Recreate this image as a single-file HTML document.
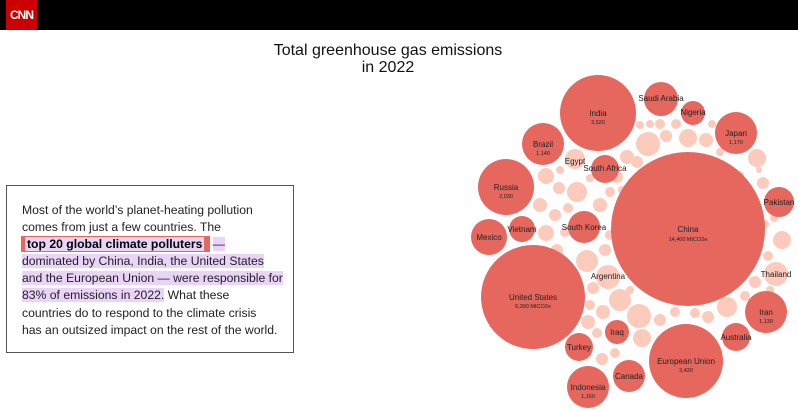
<!DOCTYPE html>
<html><head><meta charset="utf-8"><style>
html,body{margin:0;padding:0;background:#fff;}
body{width:798px;height:412px;position:relative;overflow:hidden;font-family:"Liberation Sans",sans-serif;}
.hdr{position:absolute;left:0;top:0;width:798px;height:30px;background:#000;}
.logo{position:absolute;left:6px;top:0;width:31px;height:30px;background:#cc0000;color:#fff;font-weight:bold;font-size:12px;line-height:30px;text-align:center;letter-spacing:-1px;}
.title{position:absolute;left:230px;width:316px;top:42px;text-align:center;font-size:16px;line-height:17px;color:#111;}
.box{position:absolute;left:6px;top:185px;width:288px;height:168px;border:1px solid #555;box-sizing:border-box;}
.txt{position:absolute;left:22px;top:202px;font-size:12.2px;line-height:17.1px;color:#222;white-space:nowrap;}
.hl{background:#e9d3f7;}
.bd{font-weight:bold;color:#000;border-left:3px solid #e5675d;border-right:5px solid #e5675d;outline:1px solid #e5675d;padding:0 2px;background:#e9d3f7;}
svg{position:absolute;left:0;top:0;}
svg text{font-family:"Liberation Sans",sans-serif;fill:#222;text-anchor:middle;}
</style></head><body>
<div class="hdr"><div class="logo">CNN</div></div>
<div class="title">Total greenhouse gas emissions<br>in 2022</div>
<div class="box"></div>
<div class="txt">Most of the world’s planet-heating pollution<br>comes from just a few countries. The<br><span class="bd">top 20 global climate polluters</span> <span class="hl">—</span><br><span class="hl">dominated by China, India, the United States</span><br><span class="hl">and the European Union — were responsible for</span><br><span class="hl">83% of emissions in 2022.</span> What these<br>countries do to respond to the climate crisis<br>has an outsized impact on the rest of the world.</div>
<svg width="798" height="412" viewBox="0 0 798 412">
<g fill="#fdcbbb">
<circle cx="648" cy="144" r="12"/><circle cx="688" cy="138" r="9"/><circle cx="706" cy="140" r="7"/><circle cx="660" cy="124" r="5"/><circle cx="666" cy="136" r="6"/>
<circle cx="757" cy="158" r="9"/><circle cx="763" cy="183" r="6"/><circle cx="782" cy="240" r="9"/><circle cx="768" cy="256" r="5"/><circle cx="765" cy="224" r="4"/><circle cx="759" cy="170" r="3"/>
<circle cx="575" cy="159" r="10"/><circle cx="577" cy="192" r="10"/><circle cx="546" cy="176" r="8"/><circle cx="540" cy="205" r="7"/><circle cx="559" cy="188" r="6"/><circle cx="546" cy="233" r="8"/><circle cx="555" cy="215" r="6"/><circle cx="568" cy="208" r="5"/><circle cx="600" cy="205" r="7"/><circle cx="610" cy="192" r="5"/><circle cx="557" cy="250" r="6"/><circle cx="565" cy="232" r="5"/><circle cx="548" cy="160" r="4"/><circle cx="560" cy="170" r="4"/><circle cx="590" cy="178" r="4"/>
<circle cx="587" cy="261" r="11"/><circle cx="608" cy="277" r="12"/><circle cx="605" cy="250" r="6"/><circle cx="610" cy="235" r="5"/><circle cx="620" cy="300" r="11"/><circle cx="639" cy="316" r="12"/><circle cx="642" cy="338" r="9"/><circle cx="603" cy="312" r="7"/><circle cx="588" cy="322" r="7"/><circle cx="593" cy="288" r="6"/><circle cx="597" cy="333" r="5"/><circle cx="602" cy="359" r="6"/><circle cx="615" cy="353" r="5"/><circle cx="590" cy="305" r="5"/><circle cx="630" cy="290" r="4"/><circle cx="660" cy="320" r="6"/><circle cx="675" cy="312" r="5"/>
<circle cx="727" cy="307" r="10"/><circle cx="708" cy="317" r="6"/><circle cx="695" cy="313" r="5"/><circle cx="755" cy="282" r="6"/><circle cx="745" cy="296" r="5"/><circle cx="770" cy="290" r="4"/>
<circle cx="627" cy="157" r="7"/><circle cx="637" cy="162" r="6"/><circle cx="617" cy="177" r="6"/><circle cx="622" cy="190" r="4"/><circle cx="640" cy="125" r="4"/><circle cx="650" cy="124" r="4"/><circle cx="676" cy="124" r="5"/><circle cx="712" cy="124" r="4"/><circle cx="720" cy="152" r="4"/><circle cx="740" cy="175" r="4"/>
<circle cx="776" cy="274" r="12"/><circle cx="774" cy="218" r="4"/>
</g>
<g fill="#e5675d">
<circle cx="688" cy="229" r="77"/><circle cx="533" cy="297" r="52"/><circle cx="598" cy="113" r="38"/><circle cx="686" cy="361" r="37"/>
<circle cx="506" cy="187" r="28"/><circle cx="543" cy="144" r="21"/><circle cx="736" cy="133" r="21"/><circle cx="766" cy="312" r="21"/><circle cx="588" cy="387" r="21"/>
<circle cx="489" cy="237" r="18"/><circle cx="584" cy="227" r="16"/><circle cx="661" cy="99" r="17"/><circle cx="629" cy="376" r="16"/><circle cx="779" cy="202" r="15"/><circle cx="736" cy="337" r="14"/><circle cx="579" cy="347" r="14"/><circle cx="605" cy="169" r="14"/><circle cx="522" cy="229" r="13"/><circle cx="693" cy="113" r="12"/><circle cx="617" cy="332" r="12"/>
</g>
<g font-size="8">
<text x="688" y="232">China</text><text x="688" y="241" font-size="5.5">14,400 MtCO2e</text>
<text x="533" y="300">United States</text><text x="533" y="308" font-size="5.5">6,390 MtCO2e</text>
<text x="598" y="116">India</text><text x="598" y="124" font-size="5.5">3,520</text>
<text x="686" y="364">European Union</text><text x="686" y="372" font-size="5.5">3,430</text>
<text x="506" y="190">Russia</text><text x="506" y="198" font-size="5.5">2,030</text>
<text x="543" y="147">Brazil</text><text x="543" y="155" font-size="5.5">1,140</text>
<text x="736" y="136">Japan</text><text x="736" y="144" font-size="5.5">1,170</text>
<text x="766" y="315">Iran</text><text x="766" y="323" font-size="5.5">1,130</text>
<text x="588" y="390">Indonesia</text><text x="588" y="398" font-size="5.5">1,160</text>
<text x="489" y="240">Mexico</text><text x="584" y="230">South Korea</text><text x="661" y="101">Saudi Arabia</text><text x="629" y="379">Canada</text><text x="779" y="205">Pakistan</text><text x="736" y="340">Australia</text><text x="579" y="350">Turkey</text><text x="605" y="171">South Africa</text><text x="575" y="164">Egypt</text><text x="522" y="232">Vietnam</text><text x="693" y="115">Nigeria</text><text x="617" y="335">Iraq</text><text x="608" y="279">Argentina</text><text x="776" y="277">Thailand</text>
</g>
</svg>
</body></html>
